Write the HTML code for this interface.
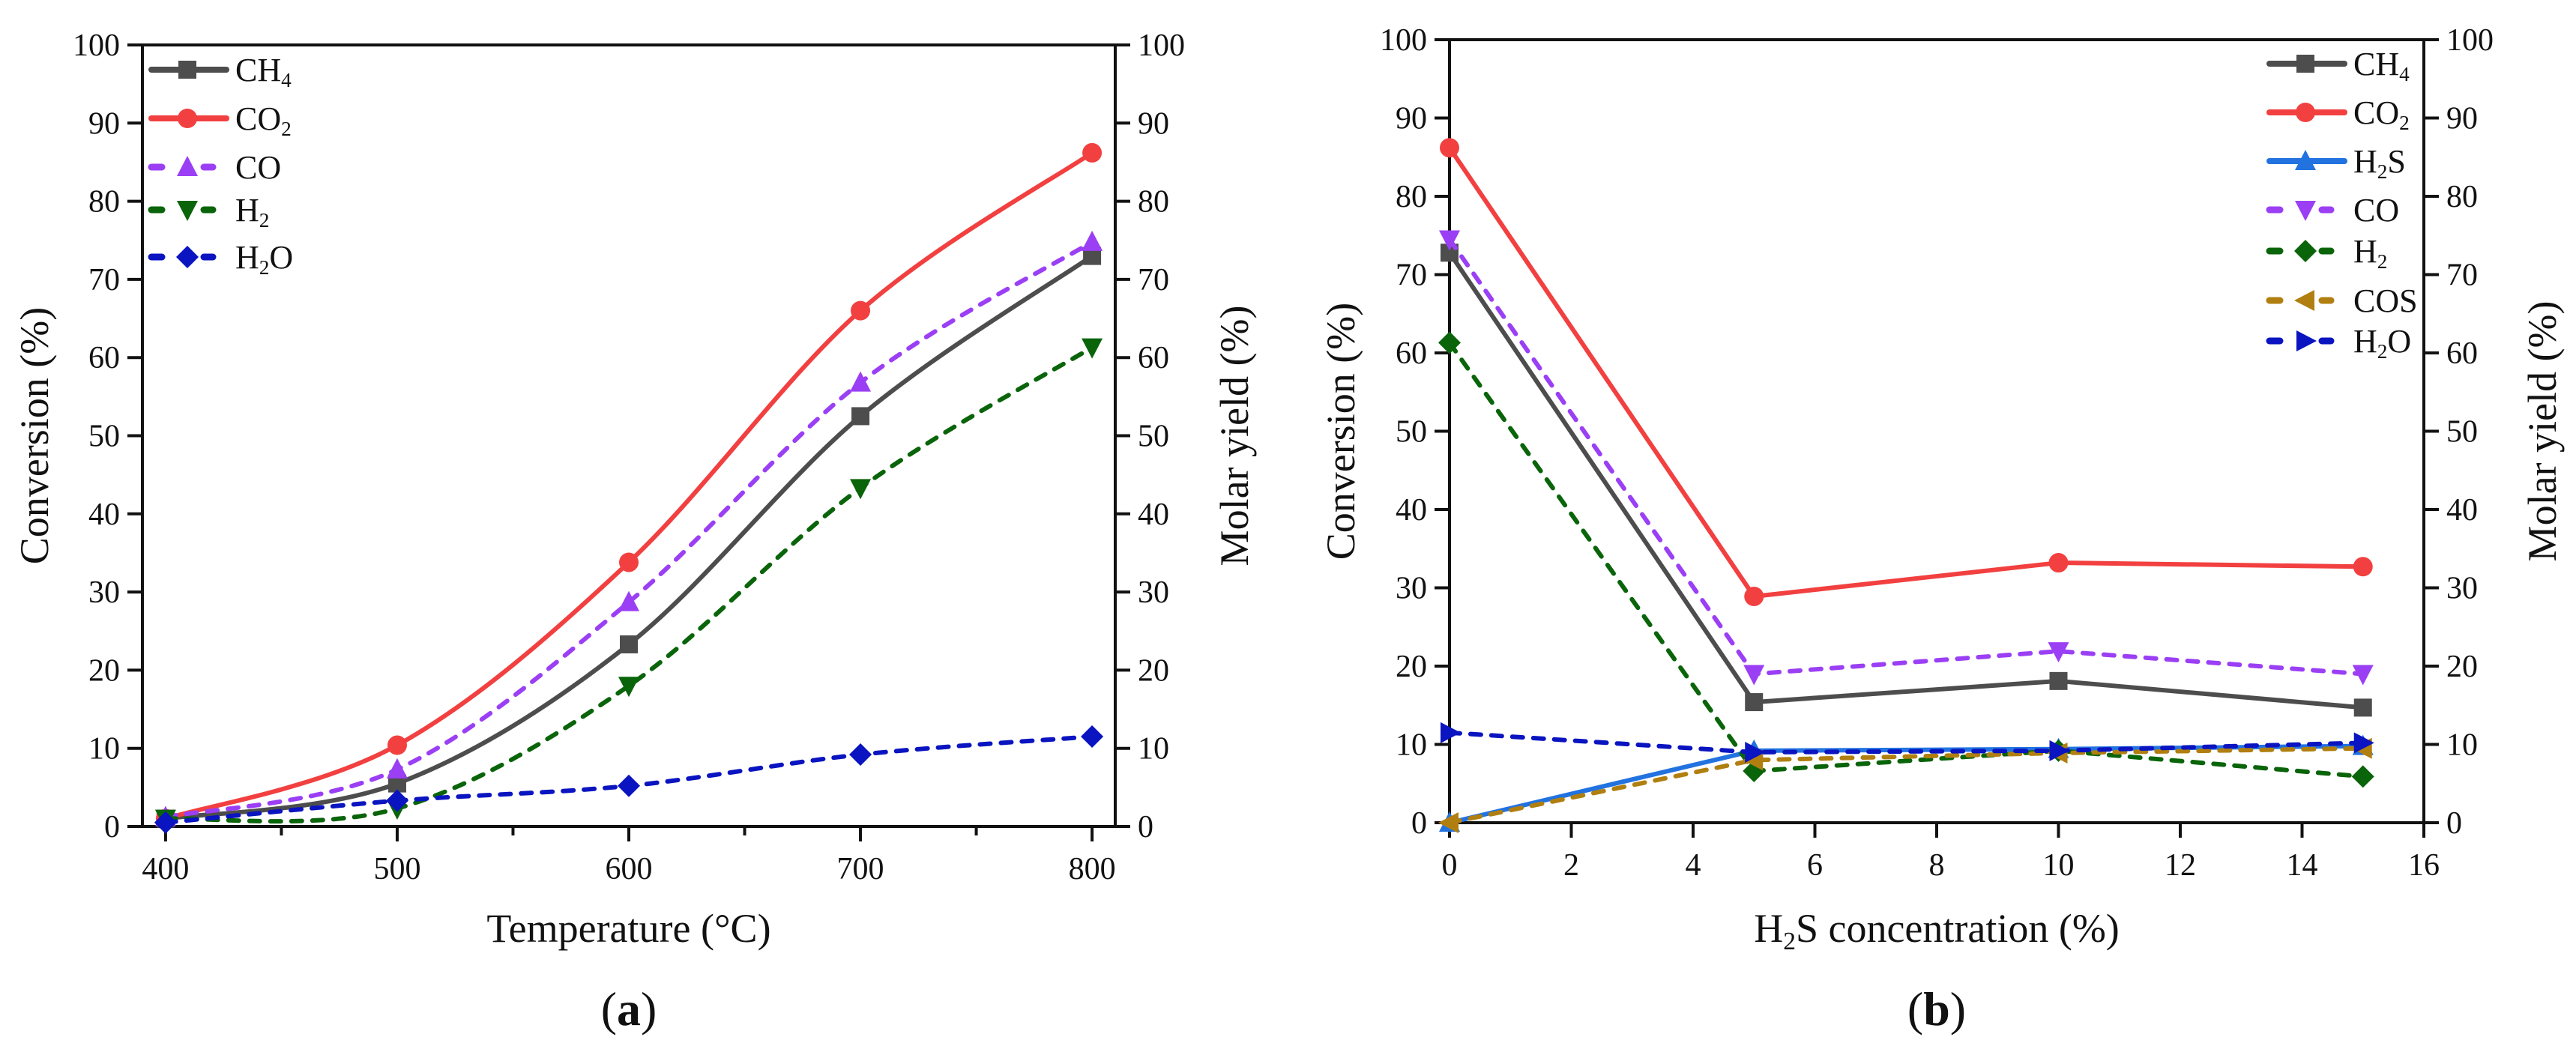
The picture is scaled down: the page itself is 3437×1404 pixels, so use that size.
<!DOCTYPE html>
<html><head><meta charset="utf-8"><style>
html,body{margin:0;padding:0;background:#fff}
svg{display:block}
text{font-family:"Liberation Serif",serif;fill:#111}
</style></head><body>
<svg id="s" width="3437" height="1404" viewBox="0 0 3437 1404" xmlns="http://www.w3.org/2000/svg"></svg>
<script>
// Panel (a) data
const tempX = [400, 500, 600, 700, 800];
const aCH4 = [1.0, 5.5, 23.3, 52.5, 73.0];
const aCO2 = [1.0, 10.4, 33.8, 66.0, 86.2];
const aCO = [1.2, 7.3, 28.7, 56.8, 74.8];
const aH2 = [1.0, 2.3, 18.0, 43.3, 61.3];
const aH2O = [0.5, 3.3, 5.2, 9.2, 11.5];
const aXTicks = [400, 500, 600, 700, 800];
// Panel (b) data
const concX = [0, 5, 10, 15];
const bCH4 = [72.8, 15.4, 18.1, 14.7];
const bCO2 = [86.2, 28.9, 33.2, 32.7];
const bH2S = [0, 9.2, 9.4, 9.8];
const bCO = [74.5, 19.0, 21.9, 19.0];
const bH2 = [61.3, 6.6, 9.2, 5.9];
const bCOS = [0, 8.0, 8.9, 9.5];
const bH2O = [11.5, 9.0, 9.2, 10.2];
const bXTicks = [0, 2, 4, 6, 8, 10, 12, 14, 16];
const yTicks = [0, 10, 20, 30, 40, 50, 60, 70, 80, 90, 100];

const NS = "http://www.w3.org/2000/svg";
const svg = document.getElementById('s');
function el(tag, attrs, parent){const e=document.createElementNS(NS,tag);for(const k in attrs)e.setAttribute(k,attrs[k]);(parent||svg).appendChild(e);return e;}

function marker(g, type, x, y, color){
  const r=12; let e;
  if(type==='square') e=el('rect',{x:x-r,y:y-r,width:2*r,height:2*r,fill:color},g);
  else if(type==='circle') e=el('circle',{cx:x,cy:y,r:r+1,fill:color},g);
  else if(type==='up') e=el('polygon',{points:`${x},${y-r-3} ${x+r+2},${y+r} ${x-r-2},${y+r}`,fill:color},g);
  else if(type==='down') e=el('polygon',{points:`${x},${y+r+3} ${x+r+2},${y-r} ${x-r-2},${y-r}`,fill:color},g);
  else if(type==='diamond') e=el('polygon',{points:`${x},${y-r-3} ${x+r+3},${y} ${x},${y+r+3} ${x-r-3},${y}`,fill:color},g);
  else if(type==='left') e=el('polygon',{points:`${x-r-3},${y} ${x+r},${y-r-2} ${x+r},${y+r+2}`,fill:color},g);
  else if(type==='right') e=el('polygon',{points:`${x+r+3},${y} ${x-r},${y-r-2} ${x-r},${y+r+2}`,fill:color},g);
  
  
}

function smoothPath(pts){
  let d=`M${pts[0][0]},${pts[0][1]}`;
  for(let i=0;i<pts.length-1;i++){
    const p0=pts[Math.max(0,i-1)],p1=pts[i],p2=pts[i+1],p3=pts[Math.min(pts.length-1,i+2)];
    const c1=[p1[0]+(p2[0]-p0[0])/6,p1[1]+(p2[1]-p0[1])/6];
    const c2=[p2[0]-(p3[0]-p1[0])/6,p2[1]-(p3[1]-p1[1])/6];
    d+=` C${c1[0]},${c1[1]} ${c2[0]},${c2[1]} ${p2[0]},${p2[1]}`;
  }
  return d;
}

function label(parent, x, y, parts, size, anchor){
  const t=el('text',{x:x,y:y,'font-size':size,'text-anchor':anchor||'start'},parent);
  parts.forEach(p=>{
    const ts=document.createElementNS(NS,'tspan');
    if(p.sub){ts.setAttribute('baseline-shift','-30%');ts.setAttribute('font-size',size*0.62);}
    ts.textContent=p.t; t.appendChild(ts);
  });
  return t;
}

function panel(cfg){
  const g=el('g',{});
  
  
  const {L,R,T,B,xmin,xmax}=cfg;
  const sx=v=>L+(v-xmin)/(xmax-xmin)*(R-L);
  const sy=v=>B-v/100*(B-T);
  const fr=el('rect',{x:L,y:T,width:R-L,height:B-T,fill:'none',stroke:'#111','stroke-width':4},g);
  
  
  yTicks.forEach(v=>{
    const y=sy(v);
    el('line',{x1:L-20,y1:y,x2:L,y2:y,stroke:'#111','stroke-width':4},g);
    el('line',{x1:R,y1:y,x2:R+20,y2:y,stroke:'#111','stroke-width':4},g);
    const tl=el('text',{x:L-30,y:y+14,'font-size':42,'text-anchor':'end'},g); tl.textContent=v;
    
    
    const tr=el('text',{x:R+30,y:y+14,'font-size':42},g); tr.textContent=v;
    
    
  });
  cfg.xTicks.forEach((v,i)=>{
    const x=sx(v);
    el('line',{x1:x,y1:B,x2:x,y2:B+20,stroke:'#111','stroke-width':4},g);
    const t=el('text',{x:x,y:B+70,'font-size':42,'text-anchor':'middle'},g); t.textContent=v;
    
    
    if(cfg.minor && i<cfg.xTicks.length-1){
      const mx=sx((v+cfg.xTicks[i+1])/2);
      el('line',{x1:mx,y1:B,x2:mx,y2:B+12,stroke:'#111','stroke-width':4},g);
    }
  });
  cfg.series.forEach(s=>{
    const sg=el('g',{},g);
    
    
    const pts=cfg.xs.map((x,i)=>[sx(x),sy(s.data[i])]);
    const d=cfg.smooth?smoothPath(pts):'M'+pts.map(p=>p.join(',')).join(' L');
    const attrs={d:d,fill:'none',stroke:s.color,'stroke-width':6,'stroke-linecap':'round','stroke-linejoin':'round'};
    if(s.dash) attrs['stroke-dasharray']='14 14';
    el('path',attrs,sg);
    pts.forEach(p=>marker(sg,s.marker,p[0],p[1],s.color));
  });
  cfg.series.forEach((s,i)=>{
    const lg=el('g',{},g);
    
    
    const y=cfg.legY[i], x0=cfg.legX, x1=x0+104, xm=x0+52;
    if(s.dash){
      el('line',{x1:x0+4,y1:y,x2:x0+18,y2:y,stroke:s.color,'stroke-width':9,'stroke-linecap':'round'},lg);
      el('line',{x1:xm+22,y1:y,x2:x1-18,y2:y,stroke:s.color,'stroke-width':9,'stroke-linecap':'round'},lg);
    } else el('line',{x1:x0+4,y1:y,x2:x1,y2:y,stroke:s.color,'stroke-width':8,'stroke-linecap':'round'},lg);
    marker(lg,s.marker,xm,y,s.color);
    label(lg,x1+12,y+15,s.label,44);
  });
  const yl=el('text',{x:0,y:0,'font-size':54,'text-anchor':'middle',transform:`translate(${cfg.ylX},${(T+B)/2}) rotate(-90)`},g);
  yl.textContent='Conversion (%)';
  
  
  const yr=el('text',{x:0,y:0,'font-size':54,'text-anchor':'middle',transform:`translate(${cfg.yrX},${(T+B)/2}) rotate(-90)`},g);
  yr.textContent='Molar yield (%)';
  
  
  const xt=label(g,(L+R)/2,1257,cfg.xTitle,54,'middle');
  
  
  const pl=el('text',{x:(L+R)/2,y:1368,'font-size':64,'text-anchor':'middle'},g);
  pl.innerHTML='(<tspan font-weight="bold">'+cfg.letter+'</tspan>)';
  
  
}

const C={ch4:'#4d4d4d',co2:'#f24040',co:'#9b3ff5',h2:'#0a640a',h2o:'#0a14c0',h2s:'#2272e0',cos:'#b07f10'};

panel({name:'panel-a',letter:'a',L:190,R:1488,T:60,B:1103,xmin:390,xmax:810,xs:tempX,xTicks:aXTicks,minor:true,smooth:true,
  ylX:64,yrX:1665,xTitle:[{t:'Temperature (°C)'}],legX:198,legY:[93,158,223,280,343],
  series:[
    {key:'ch4',data:aCH4,color:C.ch4,marker:'square',label:[{t:'CH'},{t:'4',sub:1}]},
    {key:'co2',data:aCO2,color:C.co2,marker:'circle',label:[{t:'CO'},{t:'2',sub:1}]},
    {key:'co',data:aCO,color:C.co,marker:'up',dash:1,label:[{t:'CO'}]},
    {key:'h2',data:aH2,color:C.h2,marker:'down',dash:1,label:[{t:'H'},{t:'2',sub:1}]},
    {key:'h2o',data:aH2O,color:C.h2o,marker:'diamond',dash:1,label:[{t:'H'},{t:'2',sub:1},{t:'O'}]}
  ]});

panel({name:'panel-b',letter:'b',L:1934,R:3234,T:53,B:1098,xmin:0,xmax:16,xs:concX,xTicks:bXTicks,minor:false,smooth:false,
  ylX:1807,yrX:3410,xTitle:[{t:'H'},{t:'2',sub:1},{t:'S concentration (%)'}],legX:3024,legY:[85,150,215,280,335,401,455],
  series:[
    {key:'ch4',data:bCH4,color:C.ch4,marker:'square',label:[{t:'CH'},{t:'4',sub:1}]},
    {key:'co2',data:bCO2,color:C.co2,marker:'circle',label:[{t:'CO'},{t:'2',sub:1}]},
    {key:'h2s',data:bH2S,color:C.h2s,marker:'up',label:[{t:'H'},{t:'2',sub:1},{t:'S'}]},
    {key:'co',data:bCO,color:C.co,marker:'down',dash:1,label:[{t:'CO'}]},
    {key:'h2',data:bH2,color:C.h2,marker:'diamond',dash:1,label:[{t:'H'},{t:'2',sub:1}]},
    {key:'cos',data:bCOS,color:C.cos,marker:'left',dash:1,label:[{t:'COS'}]},
    {key:'h2o',data:bH2O,color:C.h2o,marker:'right',dash:1,label:[{t:'H'},{t:'2',sub:1},{t:'O'}]}
  ]});
</script>
</body></html>
